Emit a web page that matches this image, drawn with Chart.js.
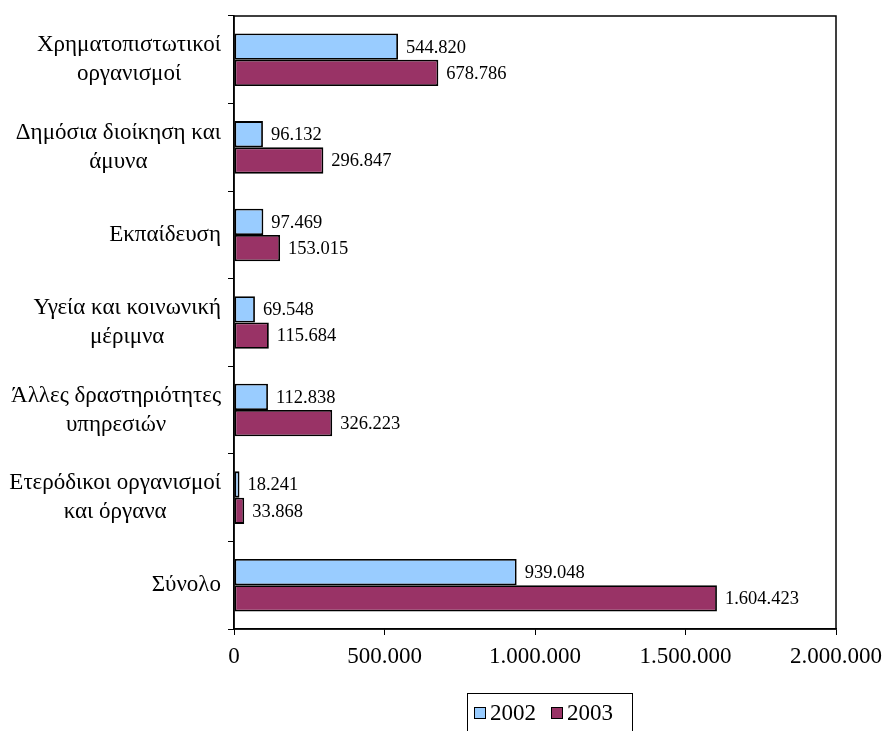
<!DOCTYPE html>
<html>
<head>
<meta charset="utf-8">
<script src="https://cdn.jsdelivr.net/npm/chart.js@4"></script>
<style>
  html, body { margin: 0; padding: 0; background: #fff; }
  #wrap { width: 884px; height: 731px; }
</style>
</head>
<body>
<div id="wrap"><canvas id="chart" width="884" height="731"></canvas></div>
<script>
// κατηγορίες (πολλές γραμμές όπως στο πρωτότυπο)
const categories = [
  ['Χρηματοπιστωτικοί', 'οργανισμοί'],
  ['Δημόσια διοίκηση και', 'άμυνα'],
  ['Εκπαίδευση'],
  ['Υγεία και κοινωνική', 'μέριμνα'],
  ['Άλλες δραστηριότητες', 'υπηρεσιών'],
  ['Ετερόδικοι οργανισμοί', 'και όργανα'],
  ['Σύνολο']
];
const seriesNames = ['2002', '2003'];
const values2002 = [544820, 96132, 97469, 69548, 112838, 18241, 939048];
const values2003 = [678786, 296847, 153015, 115684, 326223, 33868, 1604423];
const xTicks = [0, 500000, 1000000, 1500000, 2000000];

const FONT = "'Liberation Serif', 'Times New Roman', serif";

// 1.604.423 - τελεία για χιλιάδες
function fmt(v) {
  return String(Math.round(v)).replace(/\B(?=(\d{3})+(?!\d))/g, '.');
}

const extras = {
  id: 'extras',
  afterDraw(chart) {
    const ctx = chart.ctx;
    const area = chart.chartArea;
    const yScale = chart.scales.y;

    // πλαίσιο περιοχής σχεδίασης
    ctx.save();
    ctx.strokeStyle = '#000';
    ctx.lineWidth = 1.5;
    ctx.strokeRect(area.left, area.top, area.right - area.left, area.bottom - area.top);

    // ετικέτες κατηγοριών: μπλοκ στοιχισμένο δεξιά, γραμμές κεντραρισμένες
    ctx.font = '23px ' + FONT;
    ctx.fillStyle = '#000';
    ctx.textBaseline = 'middle';
    ctx.textAlign = 'center';
    const lineH = 29;
    const rightEdge = area.left - 13;
    chart.data.labels.forEach((lines, i) => {
      const cy = yScale.getPixelForValue(i);
      const w = Math.max(...lines.map(l => ctx.measureText(l).width));
      const cx = rightEdge - w / 2;
      lines.forEach((l, k) => {
        ctx.fillText(l, cx, cy + (k - (lines.length - 1) / 2) * lineH);
      });
    });

    // ετικέτες τιμών
    ctx.font = '18.5px ' + FONT;
    ctx.textAlign = 'left';
    chart.data.datasets.forEach((ds, di) => {
      const meta = chart.getDatasetMeta(di);
      meta.data.forEach((bar, i) => {
        ctx.fillText(fmt(ds.data[i]), bar.x + 8, bar.y + 1);
      });
    });

    // υπόμνημα με πλαίσιο
    ctx.font = '23px ' + FONT;
    const boxL = 467, boxT = 693, boxR = 632;
    ctx.lineWidth = 1;
    ctx.strokeRect(boxL + 0.5, boxT + 0.5, boxR - boxL, 60);
    let x = boxL + 7;
    const ly = 713;
    chart.data.datasets.forEach(ds => {
      ctx.fillStyle = ds.backgroundColor;
      ctx.fillRect(x, ly - 6, 12, 12);
      ctx.strokeStyle = '#000';
      ctx.strokeRect(x + 0.5, ly - 5.5, 11, 11);
      x += 16;
      ctx.fillStyle = '#000';
      ctx.fillText(ds.label, x, ly + 1);
      x += ctx.measureText(ds.label).width + 15;
    });
    ctx.restore();
  }
};

new Chart(document.getElementById('chart'), {
  type: 'bar',
  data: {
    labels: categories,
    datasets: [
      {
        label: seriesNames[0],
        data: values2002,
        backgroundColor: '#99CCFF',
        borderColor: '#000000',
        borderWidth: 1.8,
        borderSkipped: false,
        categoryPercentage: 0.6,
        barPercentage: 1.0
      },
      {
        label: seriesNames[1],
        data: values2003,
        backgroundColor: '#993366',
        borderColor: '#000000',
        borderWidth: 1.8,
        borderSkipped: false,
        categoryPercentage: 0.6,
        barPercentage: 1.0
      }
    ]
  },
  options: {
    indexAxis: 'y',
    responsive: false,
    animation: false,
    layout: { padding: { left: 0, right: 48, top: 16, bottom: 0 } },
    plugins: {
      legend: { display: false },
      tooltip: { enabled: false }
    },
    scales: {
      x: {
        min: 0,
        max: 2000000,
        afterBuildTicks: (scale) => { scale.ticks = xTicks.map(v => ({ value: v })); },
        afterFit: (scale) => {
          scale.height = 102;
          scale.paddingLeft = 0;
          scale.paddingRight = 0;
        },
        border: { display: true, color: '#000', width: 1.5 },
        grid: { drawOnChartArea: false, drawTicks: true, tickLength: 6, color: '#000' },
        ticks: {
          color: '#000',
          padding: 8,
          maxRotation: 0,
          font: { family: FONT, size: 23 },
          callback: (v) => fmt(v)
        }
      },
      y: {
        afterFit: (scale) => { scale.width = 234; },
        border: { display: true, color: '#000', width: 1.5 },
        grid: { drawOnChartArea: false, drawTicks: true, tickLength: 6, color: '#000', offset: true },
        ticks: { display: false }
      }
    }
  },
  plugins: [extras]
});
</script>
</body>
</html>
